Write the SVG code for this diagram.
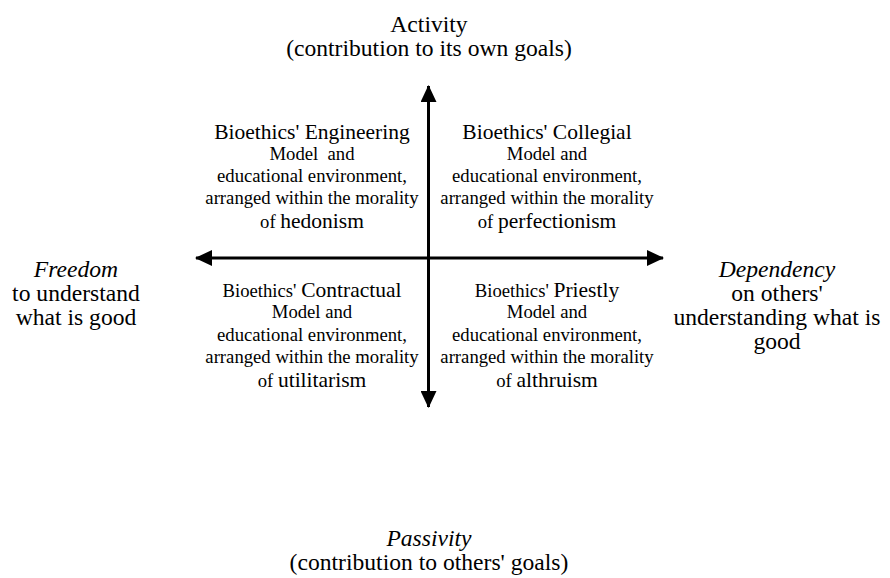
<svg xmlns="http://www.w3.org/2000/svg" width="890" height="578" viewBox="0 0 890 578">
<defs>
<style>
text{font-family:"Liberation Serif","Times New Roman",Times,serif;fill:#000;text-anchor:middle}
.ax{font-size:23.6px}
.t{font-size:21.5px}
.s{font-size:18.7px}
.i{font-style:italic}
.axis{stroke:#000;stroke-width:3;fill:none}
</style>
<marker id="ah" markerUnits="userSpaceOnUse" markerWidth="18" markerHeight="16" refX="16" refY="8" orient="auto">
<path d="M0,0 L17,8 L0,16 Z" fill="#000"/>
</marker>
</defs>
<rect width="890" height="578" fill="#fff"/>
<g id="connectors">
<line class="axis" x1="428.5" y1="258" x2="428.5" y2="86" marker-end="url(#ah)"/>
<line class="axis" x1="428.5" y1="258" x2="428.5" y2="407" marker-end="url(#ah)"/>
<line class="axis" x1="428.5" y1="258" x2="196" y2="258" marker-end="url(#ah)"/>
<line class="axis" x1="428.5" y1="258" x2="663" y2="258" marker-end="url(#ah)"/>
</g>
<g font-family="'Liberation Serif', 'Times New Roman', Times, serif">
<g id="activity">
<text class="ax" x="429" y="32">Activity</text>
<text class="ax" x="429" y="56">(contribution to its own goals)</text>
</g>
<g id="passivity">
<text class="ax i" x="429" y="546">Passivity</text>
<text class="ax" x="429" y="570">(contribution to others' goals)</text>
</g>
<g id="freedom">
<text class="ax i" x="76" y="277">Freedom</text>
<text class="ax" x="76" y="301">to understand</text>
<text class="ax" x="76" y="325">what is good</text>
</g>
<g id="dependency">
<text class="ax i" x="777" y="277">Dependency</text>
<text class="ax" x="777" y="301">on others'</text>
<text class="ax" x="777" y="325">understanding what is</text>
<text class="ax" x="777" y="349">good</text>
</g>
<g id="engineering">
<text class="t" x="312" y="139">Bioethics' Engineering</text>
<text class="s" x="312" y="160" xml:space="preserve">Model  and</text>
<text class="s" x="312" y="182">educational environment,</text>
<text class="s" x="312" y="204">arranged within the morality</text>
<text class="s" x="312" y="228">of <tspan class="t">hedonism</tspan></text>
</g>
<g id="collegial">
<text class="t" x="547" y="139">Bioethics' Collegial</text>
<text class="s" x="547" y="160">Model and</text>
<text class="s" x="547" y="182">educational environment,</text>
<text class="s" x="547" y="204">arranged within the morality</text>
<text class="s" x="547" y="228">of <tspan class="t">perfectionism</tspan></text>
</g>
<g id="contractual">
<text class="s" x="312" y="297">Bioethics' <tspan class="t">Contractual</tspan></text>
<text class="s" x="312" y="318">Model and</text>
<text class="s" x="312" y="341">educational environment,</text>
<text class="s" x="312" y="363">arranged within the morality</text>
<text class="s" x="312" y="387">of <tspan class="t">utilitarism</tspan></text>
</g>
<g id="priestly">
<text class="s" x="547" y="297">Bioethics' <tspan class="t">Priestly</tspan></text>
<text class="s" x="547" y="318">Model and</text>
<text class="s" x="547" y="341">educational environment,</text>
<text class="s" x="547" y="363">arranged within the morality</text>
<text class="s" x="547" y="387">of <tspan class="t">althruism</tspan></text>
</g>
</g>
</svg>
